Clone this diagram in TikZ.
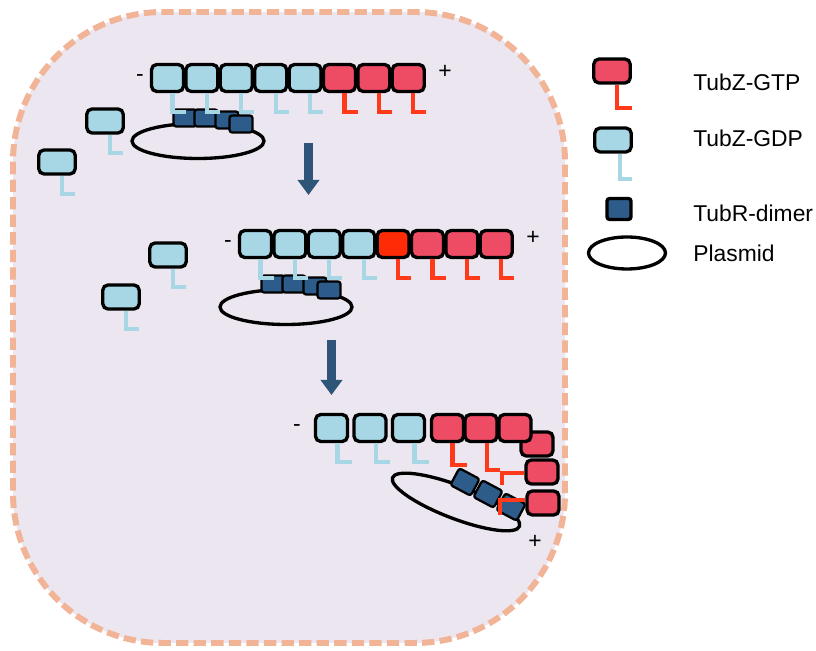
\documentclass[tikz,border=0pt]{standalone}
\usepackage{fontspec}
\setmainfont{Liberation Sans}
\usetikzlibrary{arrows.meta,shapes.geometric}

\definecolor{gdpblue}{HTML}{A7D7E4}
\definecolor{gtpred}{HTML}{EE4B65}
\definecolor{hotred}{HTML}{FF2B06}
\definecolor{tailred}{HTML}{FF3A1A}
\definecolor{tubrblue}{HTML}{2D5C8A}
\definecolor{cellfill}{HTML}{ECE6F0}
\definecolor{celledge}{HTML}{F1B497}
\definecolor{arrowblue}{HTML}{2E5577}

\tikzset{
  sub/.style={draw=black, line width=1.9pt, rounded corners=3pt, inner sep=0pt,
    minimum width=0.64cm, minimum height=0.54cm},
  gdp/.style={sub, fill=gdpblue},
  gtp/.style={sub, fill=gtpred},
  hot/.style={sub, fill=hotred},
  loose/.style={minimum width=0.73cm, minimum height=0.48cm},
  tail gdp/.style={draw=gdpblue, line width=2.4pt},
  tail gtp/.style={draw=tailred, line width=2.4pt},
  tail hot/.style={tail gtp},
  dimer/.style={draw=black, line width=1.3pt, fill=tubrblue, rounded corners=1.5pt,
    inner sep=0pt, minimum width=0.46cm, minimum height=0.34cm},
  plasmid/.style={ellipse, draw=black, line width=1.9pt, inner sep=0pt},
  advance/.style={draw=arrowblue, line width=5pt, -{Triangle[width=0.42cm,length=0.3cm]}},
  sign/.style={font=\fontsize{13}{15}\selectfont, inner sep=0pt},
  legend/.style={font=\fontsize{13}{15}\selectfont, anchor=west, inner sep=0pt},
  cellwall/.style={draw=celledge, fill=cellfill, line width=3.4pt,
    dash pattern=on 7pt off 3pt, rounded corners=3cm}
}

\begin{document}
\begin{tikzpicture}[x=0.02cm, y=-0.02cm]
\useasboundingbox (0,0) rectangle (816,651);

% the cell
\draw[cellwall] (13,12) rectangle (565,643);

% first two stages: straight filament pulling the plasmid
\foreach \s in {1,2}{
  \ifnum\s=1
    \edef\dx{0}\edef\dy{0}
    \def\chain{gdp,gdp,gdp,gdp,gdp,gtp,gtp,gtp}
    \def\frees{105/121,57/162}
  \else
    \edef\dx{88}\edef\dy{166}
    \def\chain{gdp,gdp,gdp,gdp,hot,gtp,gtp,gtp}
    \def\frees{168/255,121/297}
  \fi
  \foreach \x/\y [count=\j] in \frees {
    \node[gdp, loose] (m\s\j) at (\x,\y) {};
    \draw[tail gdp] (m\s\j.south) ++(5,0) -- ++(0,18) -- ++(13,0);
  }
  \begin{scope}[shift={(\dx,\dy)}]
    \node[plasmid, minimum width=2.64cm, minimum height=0.7cm] (p\s) at (198,141) {};
    \foreach \x/\y [count=\j] in {185/118,206/118,227/120,241/124}
      \node[dimer] (r\s\j) at (\x,\y) {};
    \foreach \k [count=\i] in \chain {
      \node[\k] (f\s\i) at ({133.1+34.4*\i},78) {};
      \draw[tail \k] (f\s\i.south) ++(5,0) -- ++(0,19) -- ++(13,0);
    }
    \node[sign] (minus\s) at (140,78) {-};
    \node[sign] (plus\s) at (445,72) {+};
  \end{scope}
}

% third stage: plus end bends round the plasmid
\node[plasmid, minimum width=2.72cm, minimum height=0.66cm, rotate=-21] (p3) at (456,502) {};
\foreach \x/\y [count=\j] in {465/482,488/494,511/507}
  \node[dimer, minimum width=0.46cm, minimum height=0.38cm, rotate=-28] (r3\j) at (\x,\y) {};
\foreach \x/\y [count=\j] in {537/444,542/472,543/503}
  \node[gtp, minimum width=0.64cm, minimum height=0.48cm] (v\j) at (\x,\y) {};
\foreach \k/\x [count=\i] in {gdp/331.5,gdp/370,gdp/408.5,gtp/447.5,gtp/481,gtp/515}
  \node[\k] (f3\i) at (\x,428) {};
\foreach \i in {1,2,3}
  \draw[tail gdp] (f3\i.south) ++(6,0) -- ++(0,19) -- ++(14,0);
\draw[tail gtp] (f34.south) ++(5,0) -- ++(0,22) -- ++(14,0);
\draw[tail gtp] (f35.south) ++(6,0) -- ++(0,27) -- ++(13,0);
\draw[tail gtp] (v2.west) ++(0,1) -- ++(-22,0) -- ++(0,12);
\draw[tail gtp] (v3.west) ++(0,-3) -- ++(-25,0) -- ++(0,15);
\node[sign] (minus3) at (297,428) {-};
\node[sign] (plus3) at (535,542) {+};

% steps
\coordinate (s1) at (308.5,143);
\coordinate (e1) at (308.5,195);
\coordinate (s2) at (331.5,340);
\coordinate (e2) at (331.5,395);
\draw[advance] (s1) -- (e1);
\draw[advance] (s2) -- (e2);

% key
\node[gtp, loose] (kgtp) at (612,71) {};
\draw[tail gtp] (kgtp.south) ++(5,0) -- ++(0,23) -- ++(15,0);
\node[legend] (tgtp) at (693,82) {TubZ-GTP};
\node[gdp, loose] (kgdp) at (613,140) {};
\draw[tail gdp] (kgdp.south) ++(7,0) -- ++(0,25) -- ++(12,0);
\node[legend] (tgdp) at (693,138) {TubZ-GDP};
\node[dimer, minimum width=0.48cm, minimum height=0.42cm, line width=1.9pt] (kdim) at (619,209) {};
\node[legend] (tdim) at (693,213) {TubR-dimer};
\node[plasmid, minimum width=1.54cm, minimum height=0.64cm] (kpl) at (627,253) {};
\node[legend] (tpl) at (693,253) {Plasmid};
\end{tikzpicture}
\end{document}
